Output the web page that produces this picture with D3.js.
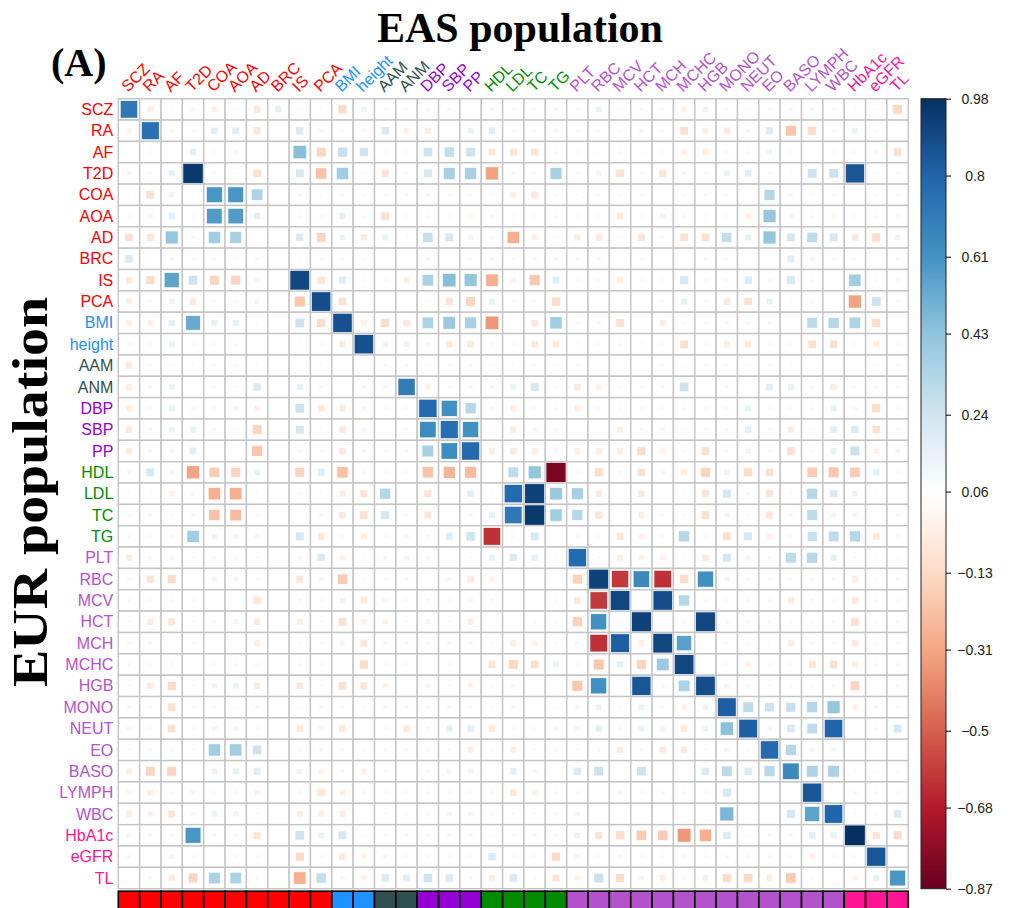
<!DOCTYPE html>
<html>
<head>
<meta charset="utf-8">
<script src="https://cdn.jsdelivr.net/npm/d3@7"></script>
<style>
  body { margin: 0; background: #fff; }
  svg { display: block; }
</style>
</head>
<body>
<svg id="chart" width="1010" height="908"></svg>
<script>
// Traits, in plot order (rows = EUR, columns = EAS).
const traits = ["SCZ", "RA", "AF", "T2D", "COA", "AOA", "AD", "BRC", "IS", "PCA",
  "BMI", "height", "AAM", "ANM", "DBP", "SBP", "PP", "HDL", "LDL", "TC", "TG",
  "PLT", "RBC", "MCV", "HCT", "MCH", "MCHC", "HGB", "MONO", "NEUT", "EO", "BASO",
  "LYMPH", "WBC", "HbA1c", "eGFR", "TL"];

// Trait category of each trait (index into groupColors).
const traitGroup = [0, 0, 0, 0, 0, 0, 0, 0, 0, 0, 1, 1, 2, 2, 3, 3, 3, 4, 4, 4, 4,
  5, 5, 5, 5, 5, 5, 5, 5, 5, 5, 5, 5, 5, 6, 6, 6];
const groupColors = ["#FF0000", "#1E90FF", "#2F4F4F", "#9400D3", "#008B00", "#B452CD", "#FF1493"];

// Colour bar ticks.
const colorTicks = [0.98, 0.8, 0.61, 0.43, 0.24, 0.06, -0.13, -0.31, -0.5, -0.68, -0.87];
const colorLimits = [-0.87, 0.98];
const palette = ["#67001F", "#B2182B", "#D6604D", "#F4A582", "#FDDBC7", "#FFFFFF",
  "#D1E5F0", "#92C5DE", "#4393C3", "#2166AC", "#053061"];

// Genetic correlations, read row by row (null = no square drawn).
const corr = [
  [0.72, -0.04, 0.03, 0.0, -0.03, 0.09, -0.07, 0.16, 0.09, 0.09, -0.12, 0.13,
   0.09, 0.09, 0.0, 0.1, null, 0.1, 0.09, 0.09, 0.1, 0.09, 0.14, 0.09, 0.1,
   0.09, -0.02, 0.13, 0.02, 0.09, 0.09, 0.1, 0.1, 0.09, 0.09, 0.09, -0.14],
  [-0.01, 0.75, 0.0, 0.09, 0.17, 0.18, -0.08, null, 0.2, 0.0, 0.09, 0.02,
   0.2, -0.03, -0.04, null, 0.14, 0.18, 0.09, 0.02, 0.0, 0.09, 0.09, 0.09, 0.0,
   0.09, -0.1, -0.04, -0.06, 0.1, 0.18, -0.2, -0.12, 0.09, 0.14, 0.09, null],
  [null, 0.09, null, 0.16, 0.09, 0.11, 0.03, null, 0.45, -0.15, 0.27, 0.24,
   0.09, 0.02, 0.25, 0.28, 0.25, -0.08, -0.08, -0.08, 0.09, 0.02, 0.03, 0.09, 0.03,
   0.09, -0.02, -0.04, 0.1, 0.09, 0.12, 0.09, null, 0.09, 0.09, 0.1, -0.1],
  [0.11, 0.09, 0.16, 0.95, 0.09, 0.09, -0.1, null, 0.22, -0.22, 0.38, 0.09,
   -0.08, 0.09, 0.22, 0.36, 0.36, -0.32, 0.11, 0.09, 0.36, 0.09, 0.12, -0.1, 0.09,
   -0.08, 0.1, 0.09, 0.15, 0.17, 0.09, 0.09, 0.25, 0.25, 0.85, 0.09, 0.09],
  [0.02, -0.1, 0.13, 0.03, 0.6, 0.6, 0.35, null, 0.02, 0.03, 0.09, 0.09,
   0.09, 0.1, 0.1, 0.09, 0.09, 0.09, -0.04, -0.06, 0.09, 0.02, 0.09, 0.09, 0.09,
   null, 0.09, 0.1, 0.09, null, 0.32, 0.11, 0.09, 0.09, null, 0.09, 0.09],
  [0.09, 0.12, 0.16, 0.09, 0.58, 0.58, 0.16, null, 0.02, 0.1, 0.16, 0.09,
   -0.1, 0.02, 0.09, 0.09, 0.0, 0.1, 0.09, 0.09, 0.09, 0.09, 0.09, -0.06, 0.02,
   -0.02, 0.1, 0.09, 0.09, -0.02, 0.42, 0.11, 0.09, 0.0, 0.09, 0.09, 0.1],
  [-0.1, -0.07, 0.42, 0.1, 0.38, 0.36, null, null, 0.2, -0.15, 0.14, -0.05,
   0.15, 0.02, 0.28, 0.22, 0.12, 0.02, -0.28, -0.03, 0.09, -0.05, -0.06, 0.09, -0.08,
   0.09, -0.1, -0.1, 0.28, 0.15, 0.42, 0.22, 0.3, 0.22, -0.06, -0.12, 0.13],
  [0.2, 0.03, 0.11, 0.09, 0.09, 0.09, 0.1, null, 0.09, 0.02, 0.02, 0.09,
   null, null, 0.1, null, 0.09, 0.1, 0.09, 0.1, 0.1, 0.1, 0.1, null, 0.09,
   null, null, 0.1, 0.09, null, null, 0.18, 0.12, 0.09, 0.09, null, 0.1],
  [-0.05, -0.12, 0.55, 0.25, -0.15, -0.15, -0.01, null, 0.9, -0.08, 0.18, 0.02,
   0.09, -0.04, 0.35, 0.45, 0.42, -0.28, -0.02, -0.2, 0.18, 0.09, 0.1, -0.04, 0.09,
   0.02, 0.22, 0.1, 0.1, 0.2, 0.1, 0.22, 0.09, null, 0.38, 0.09, 0.1],
  [-0.04, 0.09, 0.12, -0.06, 0.09, 0.1, 0.12, null, -0.2, 0.88, -0.1, null,
   null, null, 0.09, -0.08, -0.15, 0.15, 0.09, 0.09, -0.12, null, null, null, null,
   0.09, 0.15, 0.09, -0.06, -0.1, 0.15, 0.02, 0.02, null, -0.32, 0.25, 0.09],
  [-0.03, -0.03, 0.16, 0.52, 0.15, 0.15, 0.03, null, 0.25, -0.12, 0.87, -0.02,
   -0.12, -0.06, 0.35, 0.4, 0.36, -0.35, null, -0.06, 0.38, 0.09, 0.1, -0.1, null,
   -0.04, 0.09, 0.09, 0.1, 0.1, 0.1, null, 0.3, 0.32, 0.35, -0.12, null],
  [0.09, 0.1, 0.14, 0.09, 0.09, 0.09, 0.03, null, 0.02, 0.09, -0.05, 0.87,
   0.13, 0.13, 0.0, -0.06, -0.06, 0.1, 0.09, -0.06, -0.06, 0.02, 0.09, 0.09, 0.02,
   0.09, -0.1, 0.09, -0.04, -0.06, 0.09, 0.09, -0.1, -0.1, 0.02, -0.04, 0.09],
  [-0.06, 0.09, 0.09, 0.09, 0.09, 0.1, 0.09, null, null, 0.09, null, null,
   0.1, 0.1, 0.09, 0.09, 0.1, 0.09, 0.09, 0.09, 0.09, 0.09, null, null, null,
   0.09, 0.09, 0.09, 0.09, 0.09, 0.09, 0.09, null, null, null, 0.09, 0.09],
  [-0.04, 0.1, 0.14, null, 0.09, 0.09, 0.2, null, 0.15, 0.1, null, 0.1,
   0.11, 0.7, -0.02, 0.09, 0.1, 0.1, 0.14, 0.22, 0.09, -0.06, -0.02, 0.09, 0.09,
   0.1, 0.25, null, 0.1, null, 0.17, 0.15, 0.02, -0.05, 0.09, 0.1, 0.02],
  [-0.04, 0.09, 0.15, 0.1, 0.1, 0.12, -0.02, null, 0.25, -0.06, -0.05, 0.0,
   0.09, 0.09, 0.78, 0.62, 0.32, 0.1, -0.04, 0.09, 0.09, -0.04, 0.1, 0.02, 0.1,
   0.09, 0.09, 0.1, 0.1, 0.15, 0.09, 0.09, 0.09, 0.15, 0.1, -0.12, 0.09],
  [-0.06, 0.1, 0.14, 0.15, 0.1, 0.09, -0.15, null, 0.22, 0.09, -0.06, 0.0,
   null, 0.09, 0.64, 0.76, 0.62, null, -0.05, 0.0, 0.1, null, null, -0.04, 0.1,
   0.0, 0.09, 0.09, 0.1, 0.17, 0.09, -0.04, 0.09, 0.17, 0.2, -0.1, 0.09],
  [-0.06, 0.1, 0.11, 0.18, null, null, -0.2, null, 0.1, 0.09, -0.06, 0.0,
   0.09, 0.1, 0.36, 0.64, 0.78, -0.04, -0.06, -0.04, 0.11, -0.04, -0.04, -0.04, -0.12,
   -0.02, 0.09, -0.1, 0.09, 0.13, 0.09, -0.1, 0.09, 0.15, 0.26, -0.02, 0.12],
  [0.11, 0.22, 0.0, -0.32, -0.18, -0.15, 0.15, null, -0.15, 0.18, -0.22, 0.09,
   0.09, 0.09, -0.22, -0.26, -0.24, null, 0.3, 0.42, -0.82, 0.09, -0.12, 0.1, -0.1,
   0.11, -0.04, -0.15, 0.13, -0.12, -0.1, null, -0.18, -0.2, -0.18, 0.16, 0.09],
  [0.09, 0.09, -0.02, 0.1, -0.28, -0.28, 0.09, null, 0.1, 0.09, -0.04, -0.08,
   0.32, null, -0.08, null, 0.17, 0.09, 0.78, 0.92, 0.4, 0.36, -0.05, null, -0.06,
   null, 0.09, -0.08, 0.22, 0.1, -0.08, 0.09, 0.32, 0.2, 0.13, 0.09, null],
  [0.09, 0.1, 0.09, 0.1, -0.22, -0.24, 0.09, null, null, 0.11, -0.06, -0.1,
   0.22, 0.09, -0.08, null, 0.1, 0.15, 0.72, 0.95, 0.38, 0.32, -0.08, null, -0.04,
   0.09, 0.09, -0.1, 0.12, 0.09, -0.08, 0.1, 0.3, 0.12, 0.12, null, 0.02],
  [0.09, 0.09, 0.1, 0.38, 0.13, 0.12, 0.0, null, 0.22, -0.06, 0.1, -0.04,
   0.09, 0.11, 0.1, 0.18, 0.24, -0.62, 0.09, 0.22, null, 0.1, 0.1, -0.08, -0.02,
   0.09, 0.32, 0.09, -0.1, 0.22, -0.02, 0.09, 0.27, 0.3, 0.32, -0.06, 0.1],
  [-0.04, 0.1, 0.0, 0.09, 0.1, 0.1, 0.09, null, 0.0, 0.2, -0.02, 0.09,
   0.11, 0.12, 0.11, null, 0.02, 0.15, 0.2, 0.16, 0.09, 0.78, 0.09, -0.04, -0.02,
   -0.02, 0.09, -0.06, 0.22, 0.12, 0.1, 0.3, 0.32, 0.16, 0.09, 0.09, 0.02],
  [0.09, -0.08, -0.12, null, 0.12, 0.12, 0.09, null, -0.08, 0.0, -0.18, 0.09,
   0.09, 0.1, null, 0.0, -0.06, -0.02, null, null, null, -0.16, 0.92, -0.6, 0.65,
   -0.62, -0.12, 0.62, 0.12, 0.1, 0.09, 0.09, 0.02, 0.1, -0.04, 0.09, 0.1],
  [0.09, 0.09, 0.09, 0.09, null, null, -0.08, null, 0.1, 0.09, 0.14, -0.06,
   0.0, 0.09, 0.1, 0.1, 0.11, 0.1, null, null, 0.02, -0.06, -0.6, 0.9, null,
   0.88, 0.32, 0.1, 0.09, 0.09, 0.02, -0.05, 0.1, 0.1, -0.06, 0.09, 0.1],
  [0.09, -0.05, -0.08, 0.09, 0.1, 0.12, -0.06, null, -0.04, 0.09, -0.1, -0.02,
   -0.02, 0.09, 0.12, 0.09, -0.04, null, null, 0.02, 0.09, -0.16, 0.62, 0.02, 0.92,
   null, 0.1, 0.9, 0.1, 0.1, 0.02, 0.02, 0.09, 0.1, -0.1, 0.09, 0.1],
  [0.09, 0.1, null, 0.09, null, null, -0.04, null, 0.09, 0.09, 0.12, -0.08,
   0.1, 0.1, 0.1, 0.1, 0.1, 0.09, -0.04, -0.02, 0.09, 0.11, -0.62, 0.82, -0.04,
   0.9, 0.56, null, 0.09, 0.02, 0.02, -0.04, 0.1, 0.09, -0.06, 0.02, 0.09],
  [0.09, 0.1, 0.1, null, 0.09, 0.09, 0.1, null, 0.09, 0.09, null, -0.12,
   0.09, 0.09, null, 0.09, null, -0.08, -0.14, -0.1, 0.14, 0.09, -0.2, 0.16, -0.15,
   0.4, 0.9, null, 0.09, -0.02, 0.1, 0.09, -0.08, -0.1, -0.04, 0.09, 0.02],
  [0.09, -0.06, -0.12, 0.09, 0.13, 0.14, -0.05, null, -0.06, 0.09, -0.1, -0.08,
   -0.02, null, 0.12, 0.09, -0.02, 0.09, 0.0, null, null, -0.2, 0.62, null, 0.85,
   0.1, 0.35, 0.88, 0.12, 0.1, 0.09, 0.02, 0.09, 0.1, -0.15, null, 0.1],
  [0.1, 0.09, -0.1, 0.09, 0.09, 0.09, 0.1, null, 0.09, 0.1, 0.09, 0.09,
   0.1, 0.1, 0.1, 0.1, 0.09, 0.09, 0.1, null, 0.09, 0.12, 0.14, 0.09, 0.14,
   0.09, -0.02, 0.13, 0.82, 0.3, 0.25, 0.27, 0.32, 0.42, -0.02, 0.11, 0.09],
  [0.0, 0.09, -0.1, 0.09, 0.12, 0.12, 0.09, null, -0.06, 0.0, -0.06, null,
   0.09, -0.06, 0.1, 0.16, 0.17, -0.06, 0.09, 0.1, 0.11, 0.12, 0.16, 0.09, 0.15,
   -0.02, -0.06, 0.13, 0.44, 0.82, 0.12, 0.2, 0.3, 0.8, null, 0.09, 0.22],
  [0.09, 0.1, 0.1, 0.09, 0.38, 0.38, 0.25, null, 0.1, 0.11, 0.1, 0.09,
   0.02, 0.1, 0.1, 0.09, -0.04, 0.09, -0.04, 0.09, 0.02, 0.09, 0.1, -0.05, 0.1,
   -0.06, -0.06, 0.09, 0.12, 0.09, 0.78, 0.32, 0.12, 0.12, null, null, null],
  [-0.04, -0.15, -0.15, null, 0.14, 0.15, 0.18, null, 0.13, -0.02, 0.1, -0.02,
   0.09, null, 0.1, 0.12, 0.12, null, 0.16, 0.11, null, 0.2, 0.25, null, 0.25,
   null, null, 0.2, 0.3, 0.2, 0.32, 0.65, 0.35, 0.35, 0.09, 0.09, 0.02],
  [0.0, -0.04, 0.09, 0.11, 0.1, 0.1, -0.02, null, 0.09, -0.08, -0.04, 0.09,
   0.09, 0.09, 0.09, 0.09, 0.09, 0.09, -0.06, -0.02, 0.09, 0.1, null, 0.11, 0.09,
   0.1, 0.09, 0.09, 0.22, null, null, null, 0.85, null, 0.1, 0.09, 0.1],
  [-0.04, -0.02, -0.08, 0.1, 0.14, 0.13, 0.09, null, -0.04, -0.03, -0.04, null,
   0.09, 0.02, 0.1, 0.12, 0.12, 0.02, 0.09, 0.09, 0.1, 0.12, null, null, null,
   null, null, null, 0.48, null, null, 0.22, 0.55, 0.8, 0.09, 0.09, 0.2],
  [0.0, 0.1, 0.1, 0.6, 0.1, 0.1, -0.08, null, 0.25, 0.14, 0.22, 0.09,
   0.09, 0.1, 0.1, 0.1, 0.1, 0.09, 0.09, 0.1, 0.1, 0.14, -0.08, -0.12, -0.18,
   -0.18, -0.35, -0.28, 0.2, 0.09, 0.1, 0.1, 0.17, 0.15, 0.98, -0.08, -0.12],
  [0.1, null, 0.12, 0.09, null, 0.09, 0.09, null, -0.12, 0.09, -0.06, -0.02,
   0.11, 0.09, 0.09, 0.09, 0.09, 0.2, 0.09, 0.09, -0.12, 0.12, 0.09, 0.1, 0.09,
   0.09, 0.1, 0.09, 0.1, 0.1, 0.02, 0.09, -0.02, 0.09, 0.09, 0.85, null],
  [null, 0.1, -0.06, -0.15, 0.35, 0.35, 0.09, null, -0.28, 0.28, 0.11, -0.02,
   0.2, 0.18, 0.25, 0.2, 0.1, -0.04, 0.2, 0.09, -0.08, -0.02, 0.26, -0.12, 0.12,
   -0.04, 0.1, 0.14, -0.12, -0.14, -0.04, -0.18, 0.09, null, -0.02, 0.16, 0.6]
];

const svg = d3.select("#chart");
const gridLeft = 118.3, gridTop = 98.7, gridSize = 790;

const x = d3.scaleBand().domain(traits).range([gridLeft, gridLeft + gridSize]);
const y = d3.scaleBand().domain(traits).range([gridTop, gridTop + gridSize]);
const cell = x.bandwidth();

// Colour scale spread evenly over the colour limits.
const colorDomain = palette.map((_, i) => colorLimits[0] + i * (colorLimits[1] - colorLimits[0]) / (palette.length - 1));
const color = d3.scaleLinear().domain(colorDomain).range(palette);

// Square side follows the rescaled value (corrplot style).
const mid = (colorLimits[0] + colorLimits[1]) / 2;
const half = (colorLimits[1] - colorLimits[0]) / 2;
const side = (v) => cell * 0.96 * Math.sqrt(Math.abs((v - mid) / half));

const cells = [];
corr.forEach((row, i) => row.forEach((v, j) => cells.push({ row: traits[i], col: traits[j], v })));

// Grid.
svg.append("g")
  .selectAll("rect")
  .data(cells)
  .join("rect")
  .attr("x", (d) => x(d.col))
  .attr("y", (d) => y(d.row))
  .attr("width", cell)
  .attr("height", cell)
  .attr("fill", "#fff")
  .attr("stroke", "#c4c4c4")
  .attr("stroke-width", 1.4);

// Squares.
svg.append("g")
  .selectAll("rect")
  .data(cells.filter((d) => d.v !== null))
  .join("rect")
  .attr("x", (d) => x(d.col) + (cell - side(d.v)) / 2)
  .attr("y", (d) => y(d.row) + (cell - side(d.v)) / 2)
  .attr("width", (d) => side(d.v))
  .attr("height", (d) => side(d.v))
  .attr("fill", (d) => color(d.v))
  .attr("stroke", "#fff")
  .attr("stroke-width", 0.6);

// Row labels.
svg.append("g")
  .selectAll("text")
  .data(traits)
  .join("text")
  .attr("x", gridLeft - 5)
  .attr("y", (d) => y(d) + cell / 2)
  .attr("dy", "0.35em")
  .attr("text-anchor", "end")
  .attr("fill", (d, i) => groupColors[traitGroup[i]])
  .style("font-family", "Liberation Sans, Arial, sans-serif")
  .style("font-size", "16px")
  .text((d) => d);

// Column labels, rotated.
svg.append("g")
  .selectAll("text")
  .data(traits)
  .join("text")
  .attr("transform", (d) => `translate(${x(d) + cell / 2 - 1},${gridTop - 6}) rotate(-45)`)
  .attr("fill", (d, i) => groupColors[traitGroup[i]])
  .style("font-family", "Liberation Sans, Arial, sans-serif")
  .style("font-size", "16px")
  .text((d) => d);

// Category strip under the columns.
svg.append("g")
  .selectAll("rect")
  .data(traits)
  .join("rect")
  .attr("x", (d) => x(d))
  .attr("y", gridTop + gridSize + 2.5)
  .attr("width", cell)
  .attr("height", 24)
  .attr("fill", (d, i) => groupColors[traitGroup[i]])
  .attr("stroke", "#000")
  .attr("stroke-width", 1.6);

// Colour bar.
const barLeft = 921, barWidth = 25;
const barScale = d3.scaleLinear().domain(colorLimits).range([gridTop + gridSize, gridTop]);
const grad = svg.append("defs").append("linearGradient")
  .attr("id", "cbar")
  .attr("x1", 0).attr("y1", 1).attr("x2", 0).attr("y2", 0);
grad.selectAll("stop")
  .data(colorDomain)
  .join("stop")
  .attr("offset", (d, i) => i / (colorDomain.length - 1))
  .attr("stop-color", (d) => color(d));
svg.append("rect")
  .attr("x", barLeft)
  .attr("y", gridTop)
  .attr("width", barWidth)
  .attr("height", gridSize)
  .attr("fill", "url(#cbar)")
  .attr("stroke", "#222")
  .attr("stroke-width", 1);

const barAxis = d3.axisRight(barScale)
  .tickValues(colorTicks)
  .tickSize(5)
  .tickFormat((d) => String(d).replace("-", "\u2212"));
const axisG = svg.append("g")
  .attr("transform", `translate(${barLeft + barWidth},0)`)
  .call(barAxis);
axisG.select(".domain").remove();
axisG.selectAll("text")
  .attr("x", 29)
  .attr("text-anchor", "middle")
  .attr("fill", "#222")
  .style("font-family", "Liberation Sans, Arial, sans-serif")
  .style("font-size", "14px");

// Titles.
svg.append("text")
  .attr("x", 520)
  .attr("y", 42)
  .attr("text-anchor", "middle")
  .style("font-family", "Liberation Serif, Times New Roman, serif")
  .style("font-weight", "bold")
  .style("font-size", "42px")
  .text("EAS population");

svg.append("text")
  .attr("x", 51)
  .attr("y", 76)
  .style("font-family", "Liberation Serif, Times New Roman, serif")
  .style("font-weight", "bold")
  .style("font-size", "40px")
  .text("(A)");

svg.append("text")
  .attr("transform", "translate(47,492) rotate(-90)")
  .attr("text-anchor", "middle")
  .attr("textLength", 390)
  .attr("lengthAdjust", "spacingAndGlyphs")
  .style("font-family", "Liberation Serif, Times New Roman, serif")
  .style("font-weight", "bold")
  .style("font-size", "50px")
  .text("EUR population");
</script>
</body>
</html>
